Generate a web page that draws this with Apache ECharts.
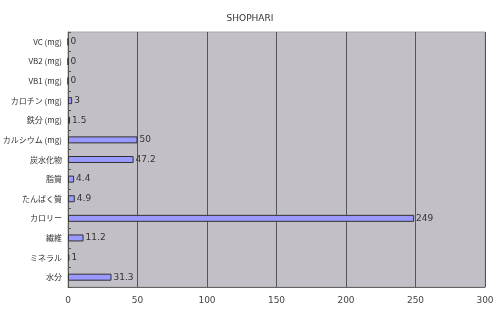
<!DOCTYPE html>
<html><head><meta charset="utf-8">
<script src="https://cdn.jsdelivr.net/npm/echarts@6/dist/echarts.min.js"></script>
<style>html,body{margin:0;padding:0;background:#fff}#c{width:500px;height:312px}</style>
</head><body><div id="c"></div>
<script>
const categories = ['VC (mg)','VB2 (mg)','VB1 (mg)','カロチン (mg)','鉄分 (mg)','カルシウム (mg)','炭水化物','脂質','たんぱく質','カロリー','繊維','ミネラル','水分'];
const values = [0,0,0,3,1.5,50,47.2,4.4,4.9,249,11.2,1,31.3];
const xTicks = [0,50,100,150,200,250,300];
const title = 'SHOPHARI';

const chart = echarts.init(document.getElementById('c'));
chart.setOption({
  animation:false,
  backgroundColor:'#fff',
  title:{text:title,left:'center',top:9,textStyle:{fontSize:9,fontWeight:'normal',color:'#333',fontFamily:'DejaVu Sans'}},
  grid:{left:68,right:15,top:32,bottom:25,containLabel:false,outerBoundsMode:'none',show:true,backgroundColor:'#c2c0c6',borderColor:'#a8a8a8',borderWidth:1},
  xAxis:{type:'value',min:xTicks[0],max:xTicks[xTicks.length-1],interval:50,
    axisLine:{show:true,lineStyle:{color:'#666'}},axisTick:{show:false},
    axisLabel:{color:'#444',fontSize:9,margin:9,fontFamily:'DejaVu Sans'},
    splitLine:{show:true,lineStyle:{color:'#555',width:1}}},
  yAxis:{type:'category',data:categories,inverse:true,
    axisLine:{show:true,lineStyle:{color:'#555'}},
    axisTick:{show:true,inside:true,length:3,lineStyle:{color:'#555'}},
    axisLabel:{color:'#333',fontSize:8,margin:6,fontFamily:'Noto Sans CJK JP'}},
  series:[{type:'bar',data:values,barWidth:7,
    itemStyle:{color:'#9999ff',borderColor:'#333',borderWidth:1},
    label:{show:true,position:'right',distance:2,color:'#333',fontSize:9,fontFamily:'DejaVu Sans'}}]
});
</script></body></html>
